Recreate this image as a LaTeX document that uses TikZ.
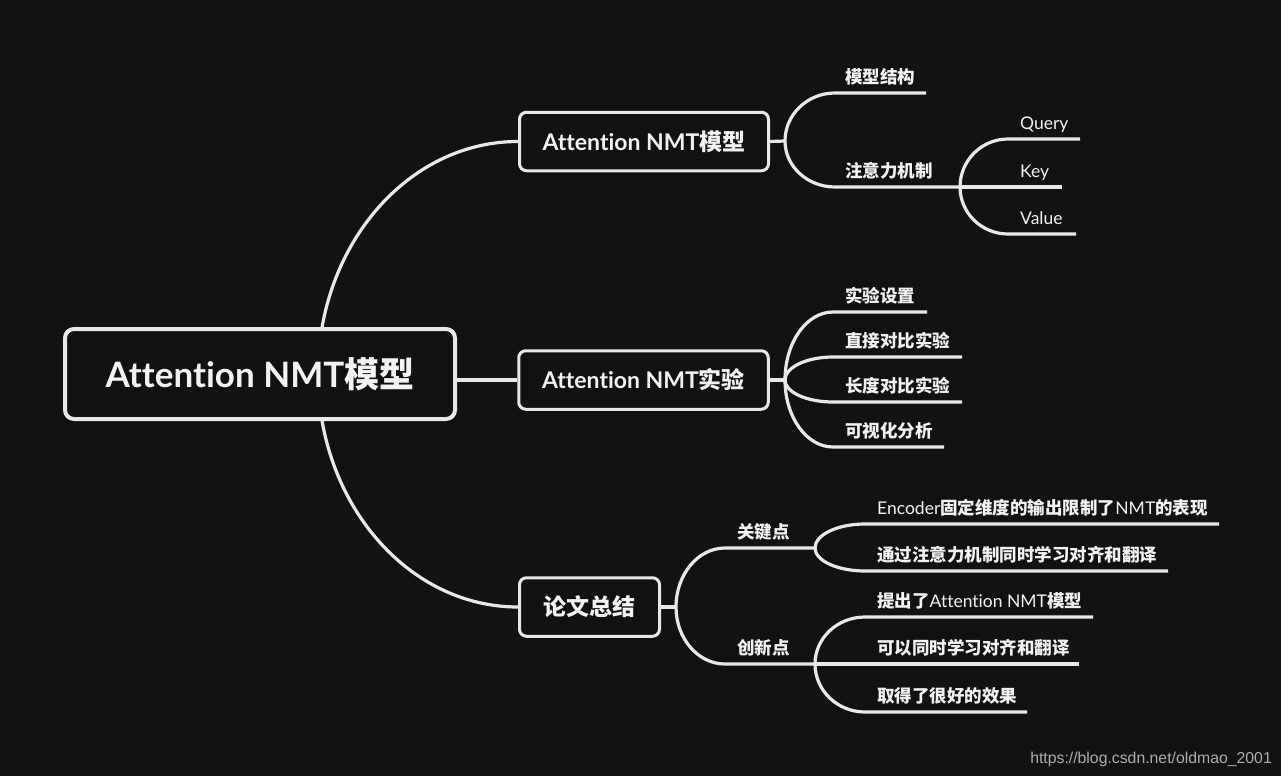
\documentclass[tikz,border=0pt]{standalone}
\usepackage{fontspec}
\setmainfont{Lato}[Ligatures={NoCommon}]
\newfontfamily\cjkfont{Noto Sans CJK SC}
\newfontfamily\wmfont{Liberation Sans}
\newcommand\zh[1]{{\cjkfont\bfseries #1}}
\usetikzlibrary{calc}
\pgfdeclarelayer{bg}
\pgfdeclarelayer{links}
\pgfsetlayers{bg,links,main}
\definecolor{bgc}{HTML}{121212}
\definecolor{linec}{HTML}{E8E8E8}
\definecolor{txtc}{HTML}{F2F2F2}
\definecolor{wmc}{HTML}{ADADAD}
\tikzset{
  conn/.style={draw=linec, line width=3.2pt},
  rootbox/.style={draw=linec, line width=4pt, fill=bgc, rounded corners=9pt,
    minimum width=390pt, minimum height=90pt, inner sep=0pt, text=txtc,
    font=\fontsize{35}{40}\selectfont\bfseries},
  topicbox/.style={draw=linec, line width=3pt, fill=bgc, rounded corners=7pt,
    minimum height=58.5pt, inner sep=0pt, text=txtc,
    font=\fontsize{23}{27}\selectfont\bfseries},
  leaf/.style={anchor=base west, inner sep=0pt, text=txtc,
    font=\fontsize{17.5}{21}\selectfont},
}
% curve from fork #1 to line start #2, then straight underline to #3
\newcommand\leafline[3]{\draw[conn] (#1) .. controls ($(#1)!0.552!(#1|-#2)$) and ($(#2)!0.552!(#1|-#2)$) .. (#2) -- (#3);}
\begin{document}
\begin{tikzpicture}[x=1pt,y=-1pt]
\begin{pgfonlayer}{bg}
  \fill[bgc] (0,0) rectangle (1281,776);
\end{pgfonlayer}
\useasboundingbox (0,0) rectangle (1281,776);

% main boxes
\node[rootbox] (root) at (260,374) {Attention NMT\zh{模型}};
\node[topicbox, minimum width=249pt] (box1) at (644,141.5) {Attention NMT\zh{模型}};
\node[topicbox, minimum width=249.5pt] (box2) at (643.5,380) {Attention NMT\zh{实验}};
\node[topicbox, minimum width=140pt] (box3) at (589.5,607) {\zh{论文总结}};

% coordinates
\coordinate (rc) at (318,374);
\coordinate (f1) at (785,141);
\coordinate (s11) at (835,93);   \coordinate (e11) at (926,93);
\coordinate (s12) at (835,187);  \coordinate (f12) at (960,187);
\coordinate (s121) at (1008,139); \coordinate (e121) at (1080,139);
\coordinate (e122) at (1062,187);
\coordinate (s123) at (1008,234); \coordinate (e123) at (1076,234);

\coordinate (f2) at (785,380);
\coordinate (s21) at (833,312); \coordinate (e21) at (927,312);
\coordinate (s22) at (833,357); \coordinate (e22) at (962,357);
\coordinate (s23) at (833,402); \coordinate (e23) at (962,402);
\coordinate (s24) at (833,447); \coordinate (e24) at (944,447);

\coordinate (f3) at (676,607);
\coordinate (s31) at (725,548); \coordinate (f31) at (815,548);
\coordinate (s32) at (725,664); \coordinate (f32) at (815,664);
\coordinate (s311) at (865,524); \coordinate (e311) at (1219,524);
\coordinate (s312) at (865,571); \coordinate (e312) at (1168,571);
\coordinate (s321) at (865,617); \coordinate (e321) at (1093,617);
\coordinate (e322) at (1079,664);
\coordinate (s323) at (865,712); \coordinate (e323) at (1027,712);

% connectors
\begin{pgfonlayer}{links}
  \leafline{rc}{box1.west}{box1.west}
  \leafline{rc}{box3.west}{box3.west}
  \draw[conn] (root.east|-box2.west) -- (box2.west);

  \draw[conn] (box1.east) -- (f1);
  \leafline{f1}{s11}{e11}
  \leafline{f1}{s12}{f12}
  \leafline{f12}{s121}{e121}
  \draw[conn] (f12) -- (e122);
  \leafline{f12}{s123}{e123}

  \draw[conn] (box2.east) -- (f2);
  \leafline{f2}{s21}{e21}
  \leafline{f2}{s22}{e22}
  \leafline{f2}{s23}{e23}
  \leafline{f2}{s24}{e24}

  \draw[conn] (box3.east) -- (f3);
  \leafline{f3}{s31}{f31}
  \leafline{f3}{s32}{f32}
  \leafline{f31}{s311}{e311}
  \leafline{f31}{s312}{e312}
  \leafline{f32}{s321}{e321}
  \draw[conn] (f32) -- (e322);
  \leafline{f32}{s323}{e323}
\end{pgfonlayer}

% labels
\node[leaf] (l11) at (845,83) {\zh{模型结构}};
\node[leaf] (l12) at (845,177) {\zh{注意力机制}};
\node[leaf] (l121) at (1020,129) {Query};
\node[leaf] (l122) at (1020,177) {Key};
\node[leaf] (l123) at (1020,224) {Value};

\node[leaf] (l21) at (845,302) {\zh{实验设置}};
\node[leaf] (l22) at (845,347) {\zh{直接对比实验}};
\node[leaf] (l23) at (845,392) {\zh{长度对比实验}};
\node[leaf] (l24) at (845,437) {\zh{可视化分析}};

\node[leaf] (l31) at (737,538) {\zh{关键点}};
\node[leaf] (l32) at (737,654) {\zh{创新点}};
\node[leaf] (l311) at (877,514) {Encoder\zh{固定维度的输出限制了}NMT\zh{的表现}};
\node[leaf] (l312) at (877,561) {\zh{通过注意力机制同时学习对齐和翻译}};
\node[leaf] (l321) at (877,607) {\zh{提出了}Attention NMT\zh{模型}};
\node[leaf] (l322) at (877,654) {\zh{可以同时学习对齐和翻译}};
\node[leaf] (l323) at (877,702) {\zh{取得了很好的效果}};

% watermark
\node[anchor=base east, inner sep=0pt, text=wmc, font=\wmfont\fontsize{15.8}{18}\selectfont] (wm) at (1272,763) {https://blog.csdn.net/oldmao\_2001};
\end{tikzpicture}
\end{document}
